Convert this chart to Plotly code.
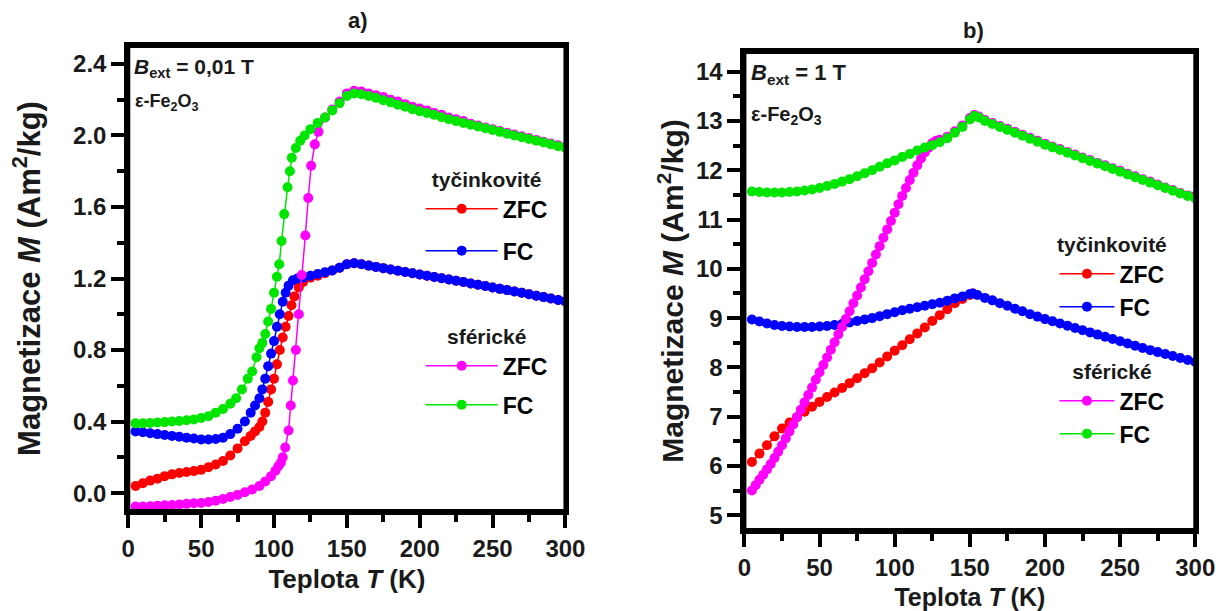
import plotly.graph_objects as go

# ---------------- panel a) B_ext = 0.01 T ----------------
a_rod_zfc_T = [5, 10, 15, 20, 25, 30, 35, 40, 45, 50, 55, 60, 65, 70, 75, 80, 84, 87, 90, 92, 94, 96, 98, 100,
               102, 104, 106, 108, 110, 112, 114, 117, 120, 125, 130, 135, 140, 145, 150, 155, 160, 165, 170, 175,
               180, 185, 190, 195, 200, 205, 210, 215, 220, 225, 230, 235, 240, 245, 250, 255, 260, 265, 270, 275,
               280, 285, 290, 295, 300]
a_rod_zfc_M = [0.04, 0.055, 0.07, 0.08, 0.095, 0.105, 0.112, 0.118, 0.123, 0.13, 0.145, 0.16, 0.18, 0.21, 0.25,
               0.29, 0.32, 0.345, 0.37, 0.40, 0.45, 0.51, 0.58, 0.64, 0.72, 0.80, 0.87, 0.93, 0.99, 1.05, 1.10,
               1.15, 1.18, 1.205, 1.215, 1.23, 1.245, 1.26, 1.28, 1.285, 1.28, 1.272, 1.265, 1.258, 1.25, 1.243,
               1.236, 1.229, 1.222, 1.215, 1.208, 1.201, 1.194, 1.187, 1.18, 1.172, 1.165, 1.158, 1.15, 1.142,
               1.135, 1.127, 1.12, 1.112, 1.104, 1.096, 1.088, 1.08, 1.072]

a_rod_fc_T = [5, 10, 15, 20, 25, 30, 35, 40, 45, 50, 55, 60, 65, 70, 75, 80, 84, 87, 90, 92, 94, 96, 98, 100,
              102, 104, 106, 108, 110, 113, 116, 120, 125, 130, 135, 140, 145, 150, 155, 160, 165, 170, 175,
              180, 185, 190, 195, 200, 205, 210, 215, 220, 225, 230, 235, 240, 245, 250, 255, 260, 265, 270, 275,
              280, 285, 290, 295, 300]
a_rod_fc_M = [0.345, 0.34, 0.335, 0.33, 0.325, 0.32, 0.315, 0.31, 0.305, 0.30, 0.30, 0.303, 0.31, 0.33, 0.36,
              0.40, 0.45, 0.49, 0.53, 0.58, 0.64, 0.71, 0.78, 0.85, 0.93, 1.00, 1.07, 1.12, 1.16, 1.19, 1.20,
              1.205, 1.215, 1.225, 1.235, 1.245, 1.26, 1.28, 1.285, 1.28, 1.272, 1.265, 1.258, 1.25, 1.243,
              1.236, 1.229, 1.222, 1.215, 1.208, 1.201, 1.194, 1.187, 1.18, 1.172, 1.165, 1.158, 1.15, 1.142,
              1.135, 1.127, 1.12, 1.112, 1.104, 1.096, 1.088, 1.08, 1.072]

a_sph_zfc_T = [5, 10, 15, 20, 25, 30, 35, 40, 45, 50, 55, 60, 65, 70, 75, 80, 85, 90, 94, 98, 101, 103, 104.7,
               106, 107.7, 110, 111.5, 113, 115, 117, 119, 121.5, 123.5, 125.5, 128, 130.5, 135, 140, 145, 150,
               155, 160, 165, 170, 175, 180, 185, 190, 195, 200, 205, 210, 215, 220, 225, 230, 235, 240, 245,
               250, 255, 260, 265, 270, 275, 280, 285, 290, 295, 300]
a_sph_zfc_M = [-0.075, -0.075, -0.073, -0.07, -0.068, -0.066, -0.063, -0.06, -0.057, -0.055, -0.05, -0.042,
               -0.033, -0.022, -0.01, 0.005, 0.02, 0.04, 0.065, 0.095, 0.125, 0.15, 0.17, 0.20, 0.255, 0.35,
               0.49, 0.63, 0.80, 1.0, 1.22, 1.44, 1.65, 1.83, 1.95, 2.02, 2.10, 2.145, 2.19, 2.235, 2.25, 2.245,
               2.235, 2.225, 2.215, 2.20, 2.19, 2.175, 2.16, 2.15, 2.14, 2.125, 2.115, 2.10, 2.09, 2.08, 2.065,
               2.055, 2.045, 2.035, 2.025, 2.015, 2.005, 1.995, 1.985, 1.975, 1.965, 1.955, 1.945, 1.935]

a_sph_fc_T = [5, 10, 15, 20, 25, 30, 35, 40, 45, 50, 55, 60, 65, 70, 74, 78, 82, 85, 88, 90, 92, 94, 96, 98,
              100, 102, 103.6, 105.2, 107, 109.3, 110.9, 112.2, 115, 118, 121, 125, 130, 135, 140, 145, 150,
              155, 160, 165, 170, 175, 180, 185, 190, 195, 200, 205, 210, 215, 220, 225, 230, 235, 240, 245,
              250, 255, 260, 265, 270, 275, 280, 285, 290, 295, 300]
a_sph_fc_M = [0.39, 0.39, 0.392, 0.395, 0.397, 0.40, 0.403, 0.407, 0.412, 0.42, 0.43, 0.45, 0.47, 0.50, 0.53,
              0.58, 0.64, 0.68, 0.76, 0.81, 0.84, 0.89, 0.96, 1.03, 1.12, 1.21, 1.28, 1.41, 1.56, 1.71, 1.80,
              1.875, 1.93, 1.97, 2.00, 2.035, 2.07, 2.10, 2.14, 2.18, 2.22, 2.235, 2.23, 2.22, 2.21, 2.197,
              2.185, 2.172, 2.16, 2.147, 2.135, 2.125, 2.115, 2.102, 2.09, 2.08, 2.07, 2.06, 2.05, 2.04, 2.03,
              2.02, 2.01, 2.0, 1.99, 1.98, 1.97, 1.96, 1.95, 1.94, 1.93]

# ---------------- panel b) B_ext = 1 T ----------------
b_rod_zfc_T = [5, 10, 15, 20, 25, 30, 35, 40, 45, 50, 55, 60, 65, 70, 75, 80, 85, 90, 95, 100, 105, 110, 115,
               120, 125, 130, 135, 140, 145, 150, 152]
b_rod_zfc_M = [6.08, 6.25, 6.42, 6.6, 6.76, 6.88, 6.99, 7.1, 7.2, 7.3, 7.4, 7.49, 7.58, 7.68, 7.78, 7.88,
               7.98, 8.1, 8.22, 8.34, 8.45, 8.57, 8.69, 8.81, 8.94, 9.06, 9.18, 9.30, 9.39, 9.47, 9.5]

b_rod_fc_T = [5, 10, 15, 20, 25, 30, 35, 40, 45, 50, 55, 60, 65, 70, 75, 80, 85, 90, 95, 100, 105, 110, 115,
              120, 125, 130, 135, 140, 145, 150, 152, 155, 160, 165, 170, 175, 180, 185, 190, 195, 200, 205,
              210, 215, 220, 225, 230, 235, 240, 245, 250, 255, 260, 265, 270, 275, 280, 285, 290, 295, 300]
b_rod_fc_M = [8.97, 8.93, 8.89, 8.86, 8.84, 8.83, 8.82, 8.82, 8.82, 8.83, 8.84, 8.86, 8.88, 8.91, 8.94, 8.97,
              9.0, 9.04, 9.08, 9.12, 9.16, 9.19, 9.22, 9.25, 9.28, 9.31, 9.35, 9.40, 9.44, 9.49, 9.5, 9.47,
              9.41, 9.36, 9.30, 9.25, 9.19, 9.14, 9.08, 9.03, 8.98, 8.935, 8.89, 8.845, 8.80, 8.755, 8.71,
              8.665, 8.62, 8.575, 8.53, 8.485, 8.44, 8.395, 8.35, 8.31, 8.27, 8.23, 8.19, 8.15, 8.11]

b_sph_zfc_T = [5, 7.5, 10, 12.5, 15, 17.5, 20, 22.5, 25, 27.5, 30, 32.5, 35, 37.5, 40, 42.5, 45, 47.5, 50,
               52.5, 55, 57.5, 60, 62.5, 65, 67.5, 70, 72.5, 75, 77.5, 80, 82.5, 85, 87.5, 90, 92.5, 95, 97.5,
               100, 102.5, 105, 107.5, 110, 112.5, 115, 117.5, 120, 122.5, 125, 127.5, 130, 135, 140, 145, 150,
               153, 156, 160, 165, 170, 175, 180, 185, 190, 195, 200, 205, 210, 215, 220, 225, 230, 235, 240,
               245, 250, 255, 260, 265, 270, 275, 280, 285, 290, 295, 300]
b_sph_zfc_M = [5.5, 5.61, 5.72, 5.82, 5.93, 6.04, 6.16, 6.29, 6.42, 6.56, 6.7, 6.84, 6.99, 7.14, 7.29, 7.44,
               7.59, 7.75, 7.9, 8.05, 8.2, 8.36, 8.51, 8.67, 8.82, 8.98, 9.14, 9.3, 9.46, 9.62, 9.79, 9.95,
               10.12, 10.29, 10.46, 10.63, 10.8, 10.97, 11.14, 11.31, 11.48, 11.64, 11.8, 11.95, 12.1, 12.24,
               12.36, 12.46, 12.55, 12.6, 12.62, 12.68, 12.79, 12.91, 13.06, 13.12, 13.09, 13.02, 12.96, 12.9,
               12.84, 12.78, 12.72, 12.66, 12.6, 12.54, 12.48, 12.43, 12.37, 12.32, 12.26, 12.21, 12.15, 12.1,
               12.04, 11.99, 11.93, 11.88, 11.82, 11.77, 11.71, 11.65, 11.6, 11.54, 11.49, 11.48]

b_sph_fc_T = [5, 10, 15, 20, 25, 30, 35, 40, 45, 50, 55, 60, 65, 70, 75, 80, 85, 90, 95, 100, 105, 110, 115,
              120, 125, 130, 135, 140, 145, 150, 153, 156, 160, 165, 170, 175, 180, 185, 190, 195, 200, 205,
              210, 215, 220, 225, 230, 235, 240, 245, 250, 255, 260, 265, 270, 275, 280, 285, 290, 295, 300]
b_sph_fc_M = [11.57, 11.56, 11.55, 11.55, 11.55, 11.56, 11.57, 11.59, 11.61, 11.64, 11.68, 11.72, 11.77,
              11.82, 11.88, 11.94, 12.0, 12.07, 12.14, 12.2, 12.27, 12.33, 12.4, 12.46, 12.51, 12.57, 12.65,
              12.76, 12.88, 13.03, 13.1, 13.07, 13.0, 12.94, 12.88, 12.82, 12.76, 12.7, 12.64, 12.58, 12.52,
              12.465, 12.41, 12.355, 12.3, 12.245, 12.19, 12.135, 12.08, 12.025, 11.97, 11.915, 11.86, 11.805,
              11.75, 11.695, 11.64, 11.585, 11.53, 11.48, 11.43]

x_ticks = [0, 50, 100, 150, 200, 250, 300]

RED, BLUE, MAGENTA, GREEN = "#ff0000", "#0000ff", "#ff00ff", "#00e600"
FONT = "Liberation Sans"
INK = "#1a1a1a"

fig = go.Figure()


def add(T, M, color, name, xa, ya, legend, group):
    fig.add_trace(go.Scatter(
        x=T, y=M, mode="lines+markers", name=name,
        line=dict(color=color, width=1.5),
        marker=dict(color=color, size=10, symbol="circle", line=dict(width=0)),
        legendgroup=group, xaxis=xa, yaxis=ya, legend=legend))


add(a_rod_zfc_T, a_rod_zfc_M, RED, "ZFC", "x", "y", "legend", "a1")
add(a_rod_fc_T, a_rod_fc_M, BLUE, "FC", "x", "y", "legend", "a2")
add(a_sph_zfc_T, a_sph_zfc_M, MAGENTA, "ZFC", "x", "y", "legend2", "a3")
add(a_sph_fc_T, a_sph_fc_M, GREEN, "FC", "x", "y", "legend2", "a4")

add(b_rod_zfc_T, b_rod_zfc_M, RED, "ZFC", "x2", "y2", "legend3", "b1")
add(b_rod_fc_T, b_rod_fc_M, BLUE, "FC", "x2", "y2", "legend3", "b2")
add(b_sph_zfc_T, b_sph_zfc_M, MAGENTA, "ZFC", "x2", "y2", "legend4", "b3")
add(b_sph_fc_T, b_sph_fc_M, GREEN, "FC", "x2", "y2", "legend4", "b4")

tickfont = dict(family=FONT, size=24, color=INK, weight="bold")


def tfont(size):
    return dict(family=FONT, size=size, color=INK, weight="bold")


common = dict(showline=True, linecolor="#000000", linewidth=4, mirror=True, ticks="outside",
              ticklen=13, tickwidth=4, tickcolor="#000000", showgrid=False, zeroline=False,
              tickfont=tickfont, layer="above traces")
minor_x = dict(dtick=25, tick0=0, ticks="outside", ticklen=7, tickwidth=4, tickcolor="#000000")

# panel placement (pixels)
AX_L0, AX_L1 = 124, 571
AX_R0, AX_R1 = 754, 1215


def legend_box(x, y, title, size_title, size_item, gap, iw):
    return dict(x=x / 1228, y=1 - y / 611, xanchor="left", yanchor="top", bgcolor="rgba(0,0,0,0)",
                title=dict(text=title, side="top center", font=tfont(size_title)),
                font=dict(family=FONT, size=size_item, color="black", weight="bold"),
                tracegroupgap=gap, itemwidth=iw, traceorder="grouped")


fig.update_layout(
    width=1228, height=611, margin=dict(l=0, r=0, t=0, b=0),
    paper_bgcolor="white", plot_bgcolor="white", showlegend=True,
    xaxis=dict(domain=[AX_L0 / 1228, AX_L1 / 1228], range=[0, 300], tickvals=x_ticks, minor=minor_x,
               title=dict(text="Teplota <i>T</i> (K)", font=tfont(26), standoff=10), anchor="y", **common),
    yaxis=dict(domain=[1 - 511 / 611, 1 - 46 / 611], range=[-0.1, 2.5], tick0=0, dtick=0.4, tickformat=".1f",
               minor=dict(dtick=0.2, tick0=0, ticks="outside", ticklen=7, tickwidth=4, tickcolor="#000000"),
               title=dict(text="Magnetizace <i>M</i> (Am<sup>2</sup>/kg)", font=tfont(31), standoff=24),
               anchor="x", **common),
    xaxis2=dict(domain=[AX_R0 / 1228, AX_R1 / 1228], range=[0, 300], tickvals=x_ticks, minor=minor_x,
                title=dict(text="Teplota <i>T</i> (K)", font=tfont(25), standoff=10), anchor="y2", **common),
    yaxis2=dict(domain=[1 - 530 / 611, 1 - 52 / 611], range=[4.7, 14.4], tick0=0, dtick=1,
                minor=dict(dtick=0.5, tick0=0, ticks="outside", ticklen=7, tickwidth=4, tickcolor="#000000"),
                title=dict(text="Magnetizace <i>M</i> (Am<sup>2</sup>/kg)", font=tfont(30), standoff=4),
                anchor="x2", **common),
    legend=legend_box(423, 160, "tyčinkovité", 21, 23, 9, 72),
    legend2=legend_box(423, 317, "sférické", 21, 23, 6, 72),
    legend3=legend_box(1071, 225, "tyčinkovité", 21, 23, 0, 55),
    legend4=legend_box(1071, 352, "sférické", 21, 23, 0, 55),
)

# plot frames (decoration, drawn in axis-domain coordinates)
for xr, yr in (("x domain", "y domain"), ("x2 domain", "y2 domain")):
    fig.add_shape(type="rect", xref=xr, yref=yr, x0=0, x1=1, y0=0, y1=1,
                  line=dict(color="black", width=4), fillcolor="rgba(0,0,0,0)", layer="above")

fig.add_annotation(text="a)", x=347 / 1228, y=1 - 20 / 611, xref="paper", yref="paper",
                   yanchor="middle", showarrow=False, font=tfont(22))
fig.add_annotation(text="b)", x=1001 / 1228, y=1 - 30 / 611, xref="paper", yref="paper",
                   yanchor="middle", showarrow=False, font=tfont(22))
fig.add_annotation(text="<i>B</i><sub>ext</sub> = 0,01 T", x=128 / 1228, y=1 - 68 / 611, xref="paper",
                   yref="paper", xanchor="left", yanchor="middle", showarrow=False, font=tfont(21))
fig.add_annotation(text="ε-Fe<sub>2</sub>O<sub>3</sub>", x=129 / 1228, y=1 - 103 / 611, xref="paper",
                   yref="paper", xanchor="left", yanchor="middle", showarrow=False, font=tfont(18))
fig.add_annotation(text="<i>B</i><sub>ext</sub> = 1 T", x=759 / 1228, y=1 - 74 / 611, xref="paper",
                   yref="paper", xanchor="left", yanchor="middle", showarrow=False, font=tfont(22))
fig.add_annotation(text="ε-Fe<sub>2</sub>O<sub>3</sub>", x=759 / 1228, y=1 - 115 / 611, xref="paper",
                   yref="paper", xanchor="left", yanchor="middle", showarrow=False, font=tfont(20))

fig.write_html("out.html")
